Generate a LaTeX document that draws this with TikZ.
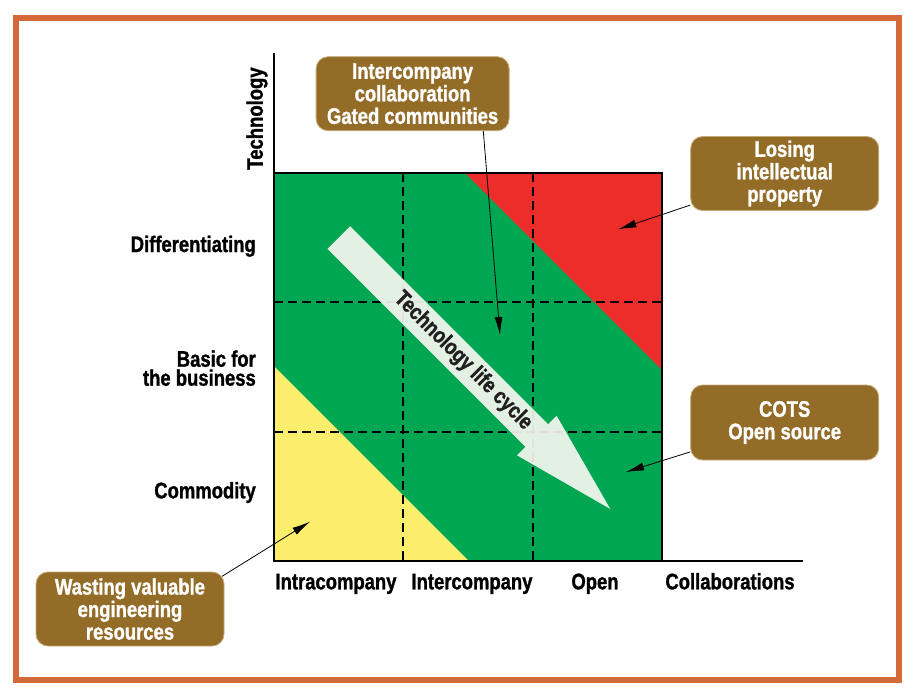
\documentclass[tikz,border=0pt]{standalone}
\usepackage{fontspec}
\setmainfont{Liberation Sans}[FakeStretch=0.82, BoldFeatures={FakeBold=1.2}]
\usetikzlibrary{arrows.meta}
\definecolor{frameorange}{RGB}{212,106,56}
\definecolor{qgreen}{RGB}{0,166,81}
\definecolor{qred}{RGB}{237,45,41}
\definecolor{qyellow}{RGB}{250,238,108}
\definecolor{arrowfill}{RGB}{252,249,244}
\definecolor{boxbrown}{RGB}{147,108,40}
\definecolor{boxedge}{RGB}{196,170,120}
\definecolor{txtdark}{RGB}{35,31,32}
\tikzset{
  lbl/.style={font=\fontsize{22.5}{19}\selectfont\bfseries, inner sep=0pt},
  callout/.style={fill=boxbrown, draw=boxedge, line width=0.8pt, rounded corners=12pt,
    text=white, align=center, font=\fontsize{22.5}{22.5}\selectfont\bfseries,
    minimum width=188pt, minimum height=74pt, inner sep=0pt},
  pointer/.style={-{Latex[length=18pt,width=8pt]}, line width=0.8pt, black},
  gridline/.style={black, line width=1.7pt, dash pattern=on 9pt off 5pt},
  axisline/.style={black, line width=2pt},
}
\begin{document}
\begin{tikzpicture}[x=1pt,y=-1pt]
\useasboundingbox (0,0) rectangle (924,694);
\fill[white] (0,0) rectangle (924,694);
\draw[frameorange, line width=6pt] (16,18) rectangle (899,680);
% regions
\fill[qgreen] (274,173) rectangle (662,561);
\fill[qred] (465,173) -- (662,173) -- (662,370) -- cycle;
\fill[qyellow] (274,366) -- (469,561) -- (274,561) -- cycle;
% grid
\draw[gridline] (403.3,173) -- (403.3,561);
\draw[gridline] (532.7,173) -- (532.7,561);
\draw[gridline] (274,302.3) -- (662,302.3);
\draw[gridline] (274,431.7) -- (662,431.7);
% outline and axes
\draw[axisline] (274,173) -- (662,173) -- (662,561);
\draw[axisline] (274,53) -- (274,561) -- (803,561);
% life cycle arrow
\fill[arrowfill, fill opacity=0.9] (350.1,226.2) -- (548.1,424.2) -- (556.6,415.7) -- (610.3,509.0)
  -- (517.0,455.3) -- (525.5,446.8) -- (327.5,248.8) -- cycle;
\node[lbl, text=txtdark, rotate=-45] (lc) at (463,361) {Technology life cycle};
% axis labels
\node[lbl, rotate=90] (yaxis) at (257,118.5) {Technology};
\node[lbl, anchor=base east] (diff) at (256,252) {Differentiating};
\node[lbl, anchor=base east] (basic1) at (256,366.7) {Basic for};
\node[lbl, anchor=base east] (basic2) at (256,385.7) {the business};
\node[lbl, anchor=base east] (comm) at (256,498.3) {Commodity};
\node[lbl, anchor=base] (intra) at (336,589.3) {Intracompany};
\node[lbl, anchor=base] (inter) at (472,589.3) {Intercompany};
\node[lbl, anchor=base] (open) at (595,589.3) {Open};
\node[lbl, anchor=base] (collab) at (730,589.3) {Collaborations};
% callouts
\node[callout, minimum width=193pt] (box1) at (412.6,93.7) {Intercompany\\collaboration\\Gated communities};
\node[callout] (box2) at (784.7,173.5) {Losing\\intellectual\\property};
\node[callout, minimum height=75pt] (box3) at (784.7,422.5) {COTS\\Open source};
\node[callout] (box4) at (130,609) {Wasting valuable\\engineering\\resources};
% pointers
\coordinate (t1) at (500,335);
\coordinate (t2) at (618.3,229.3);
\coordinate (t3) at (626,472);
\coordinate (t4) at (310,521.7);
\draw[pointer] ([xshift=70.7pt]box1.south) -- (t1);
\draw[pointer] (box2) -- (t2);
\draw[pointer] (box3) -- (t3);
\draw[pointer] ([xshift=-2.3pt,yshift=-4.7pt]box4.north east) -- (t4);
\end{tikzpicture}
\end{document}
